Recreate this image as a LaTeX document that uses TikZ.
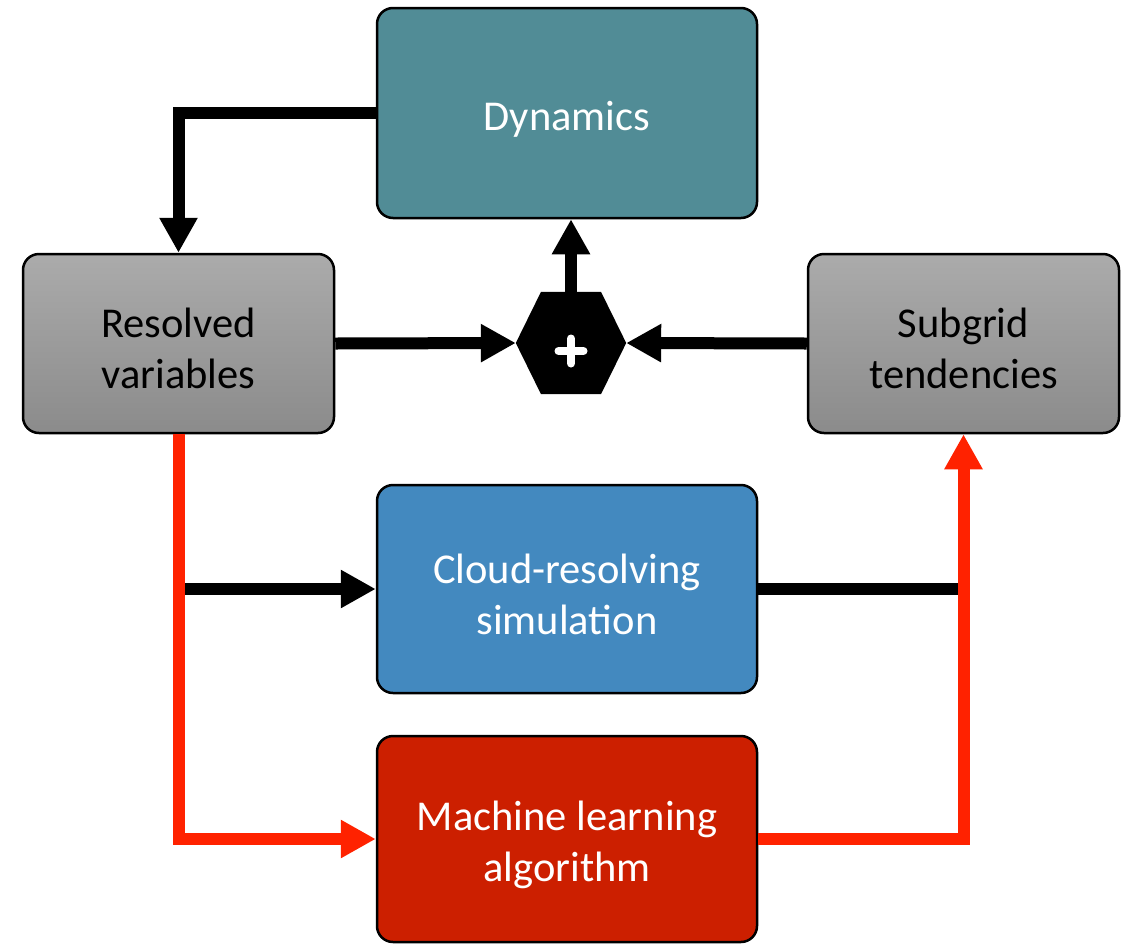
\documentclass[tikz,border=0pt]{standalone}
\usepackage{fontspec}
\setmainfont{Carlito}
\usetikzlibrary{arrows.meta,calc}

\definecolor{dyncol}{HTML}{518C96}
\definecolor{crscol}{HTML}{4389BF}
\definecolor{mlcol}{HTML}{CC1F00}
\definecolor{redline}{HTML}{FF2200}
\definecolor{graytop}{HTML}{ABABAB}
\definecolor{graybot}{HTML}{8B8B8B}

\tikzset{
  box/.style={draw=black, line width=2.5pt, rounded corners=16pt, inner sep=0pt},
  widebox/.style={box, minimum width=380pt},
  graybox/.style={box, minimum width=311pt, minimum height=179pt,
    top color=graytop, bottom color=graybot},
  boxtext/.style={align=center, inner sep=0pt, font=\fontsize{42.5}{51}\selectfont},
  blkline/.style={draw=black, line width=12pt},
  redpath/.style={draw=redline, line width=12pt},
  tip/.style={-{Triangle[length=35pt,width=36pt]}},
}

\begin{document}
\begin{tikzpicture}[x=1pt, y=-1pt]
\useasboundingbox (0,0) rectangle (1127,943);

% blocks
\node[widebox, minimum height=210pt, fill=dyncol] (dyn) at (567,113) {};
\node[graybox] (res) at (178.5,343.5) {};
\node[graybox] (sub) at (963.5,343.5) {};
\node[widebox, minimum height=208pt, fill=crscol] (crs) at (567,589) {};
\node[widebox, minimum height=206pt, fill=mlcol] (ml) at (567,839) {};

% block labels, set slightly below the block centres
\node[boxtext, text=white] (dyn-t) at ($(dyn.center)+(0,6)$) {Dynamics};
\node[boxtext, text=black] (res-t) at ($(res.center)+(0,5)$) {Resolved\\variables};
\node[boxtext, text=black] (sub-t) at ($(sub.center)+(0,5)$) {Subgrid\\tendencies};
\node[boxtext, text=white] (crs-t) at ($(crs.center)+(0,5)$) {Cloud-resolving\\simulation};
\node[boxtext, text=white] (ml-t) at ($(ml.center)+(0,6)$) {Machine learning\\algorithm};

% summation hexagon
\node[minimum width=110pt, minimum height=102pt, inner sep=0pt] (sum) at (571,343) {};
\fill[black] (sum.west) -- ($(sum.north)+(-30,0)$) -- ($(sum.north)+(30,0)$)
  -- (sum.east) -- ($(sum.south)+(30,0)$) -- ($(sum.south)+(-30,0)$) -- cycle;
\draw[white, line width=8pt, line cap=round]
  ($(sum.center)+(-12.5,8)$) -- ($(sum.center)+(12.5,8)$)
  ($(sum.center)+(0,-4.5)$) -- ($(sum.center)+(0,20.5)$);

% black connectors
\draw[blkline, tip] (dyn.west) -| (res.north);
\draw[blkline, tip] (res.east) -- (sum.west);
\draw[blkline, tip] (sub.west) -- (sum.east);
\draw[blkline, tip] (sum.north) -- (sum.north |- dyn.south);
\draw[blkline, tip] (res.south |- crs.west) -- (crs.west);
\draw[blkline] (crs.east) -- (crs.east -| sub.south);

% red learning path
\draw[redpath, tip] (res.south) |- (ml.west);
\draw[redpath, tip] (ml.east) -| (sub.south);
\end{tikzpicture}
\end{document}
